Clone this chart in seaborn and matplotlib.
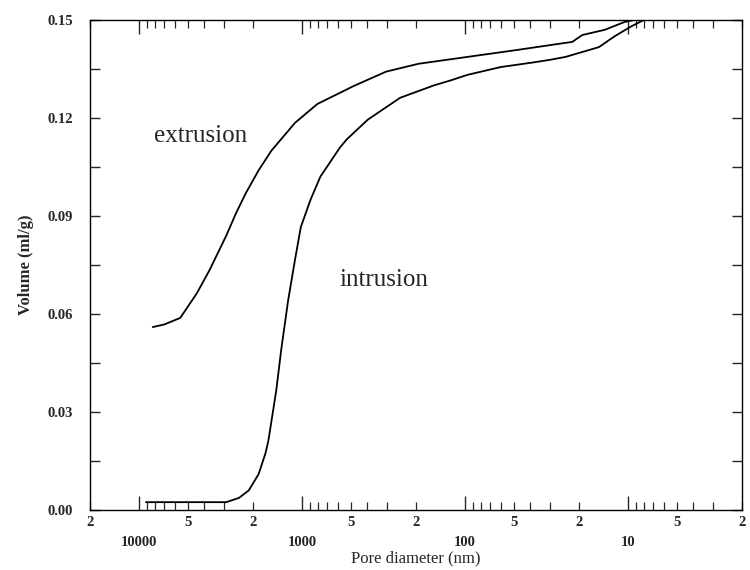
import matplotlib
matplotlib.use("Agg")
import math
import matplotlib.pyplot as plt
import matplotlib.ticker as mticker
import seaborn as sns
import pandas as pd

# ---- data ----
intrusion_d = [9075, 2917, 2438, 2123, 1847, 1676, 1607, 1439, 1343, 1219, 1106,
               1018, 887, 773, 585, 531, 395, 250, 155, 121, 96.8, 60.4, 38.3,
               30.2, 24.2, 15.1, 12.1, 9.6, 8.0]
intrusion_v = [0.0024, 0.0024, 0.0037, 0.006, 0.011, 0.0174, 0.0214, 0.0367, 0.049,
               0.064, 0.0765, 0.0866, 0.095, 0.102, 0.111, 0.1135, 0.1195, 0.1262,
               0.130, 0.1316, 0.1332, 0.1356, 0.137, 0.1378, 0.1387, 0.1417, 0.145,
               0.148, 0.150]

extrusion_d = [8240, 7000, 5590, 4415, 3690, 2917, 2540, 2213, 1847, 1542, 1106,
               805, 554, 482, 305, 193, 96.8, 48.4, 30.2, 22, 19.1, 13.9, 10.5, 8.0]
extrusion_v = [0.056, 0.0568, 0.0588, 0.0664, 0.0735, 0.084, 0.0909, 0.097, 0.104,
               0.110, 0.1185, 0.1243, 0.1283, 0.1298, 0.1342, 0.1366, 0.1387, 0.1408,
               0.1423, 0.1433, 0.1454, 0.147, 0.1494, 0.1506]

y_ticks = [0.00, 0.03, 0.06, 0.09, 0.12, 0.15]
x_major = [10000, 1000, 100, 10]
x_major_labels = ["10000", "1000", "100", "10"]

sns.set_style("ticks")
plt.rcParams["font.family"] = ["Liberation Serif", "DejaVu Serif"]

fig = plt.figure(figsize=(7.5, 5.7), dpi=100)
ax = fig.add_axes([90 / 750, 1 - 510 / 570, 652 / 750, 490 / 570])

df_i = pd.DataFrame({"d": intrusion_d, "v": intrusion_v})
df_e = pd.DataFrame({"d": extrusion_d, "v": extrusion_v})
sns.lineplot(data=df_i, x="d", y="v", sort=False, estimator=None, color="black",
             linewidth=1.3, ax=ax)
sns.lineplot(data=df_e, x="d", y="v", sort=False, estimator=None, color="black",
             linewidth=1.3, ax=ax)

ax.set_xscale("log")
ax.set_xlim(20000, 2)
ax.set_ylim(0, 0.15)

# x ticks
ax.xaxis.set_major_locator(mticker.FixedLocator(x_major))
ax.xaxis.set_major_formatter(mticker.FixedFormatter(x_major_labels))
ax.xaxis.set_minor_locator(mticker.LogLocator(base=10, subs=[2, 3, 4, 5, 6, 7, 8, 9], numticks=20))


def minor_fmt(x, pos):
    m = round(x / (10 ** math.floor(math.log10(x) + 1e-9)))
    return str(m) if m in (2, 5) else ""


ax.xaxis.set_minor_formatter(mticker.FuncFormatter(minor_fmt))

# y ticks
ax.set_yticks(y_ticks)
ax.set_yticklabels([f"{t:.2f}" for t in y_ticks])
ax.yaxis.set_minor_locator(mticker.MultipleLocator(0.015))

ax.tick_params(axis="x", which="major", direction="in", length=10, width=1,
               top=True, bottom=True, pad=19, labelsize=10.5)
ax.tick_params(axis="x", which="minor", direction="in", length=6, width=0.9,
               top=True, bottom=True, pad=4, labelsize=10.5)
ax.tick_params(axis="y", which="both", direction="in", length=7, width=1,
               left=True, right=True, pad=12, labelsize=10.5)
for lbl in ax.get_xticklabels(which="both") + ax.get_yticklabels():
    lbl.set_fontweight("bold")

for s in ax.spines.values():
    s.set_linewidth(1.0)
    s.set_color("black")

ax.set_xlabel("Pore diameter (nm)", fontsize=12, labelpad=1)
ax.set_ylabel("Volume (ml/g)", fontsize=12, fontweight="bold", labelpad=10)

ax.text(4170, 0.1145, "extrusion", fontsize=18, ha="center", va="center")
ax.text(313, 0.0705, "intrusion", fontsize=18, ha="center", va="center")

fig.savefig("out.png", dpi=100)
